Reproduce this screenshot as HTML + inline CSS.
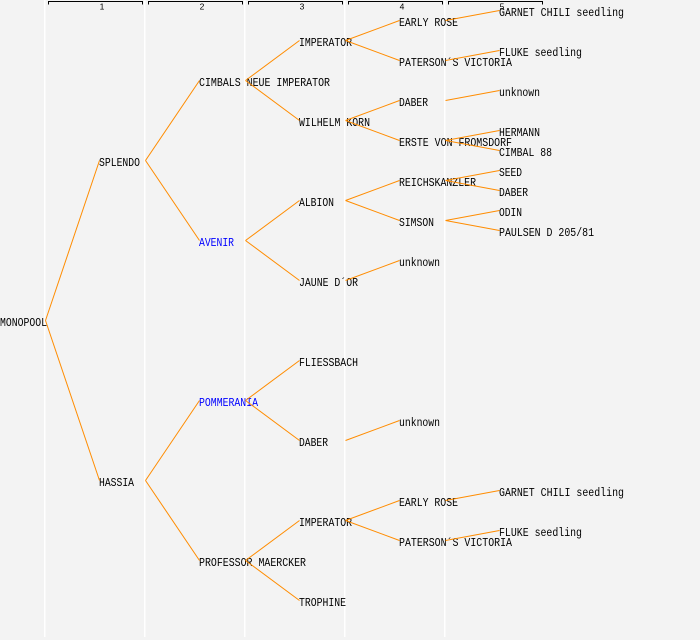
<!DOCTYPE html>
<html>
<head>
<meta charset="utf-8">
<style>
  html,body{margin:0;padding:0;background:#f3f3f3;}
  svg{display:block;}
  .t{font-family:"Liberation Mono","DejaVu Sans Mono",monospace;font-size:12px;fill:#000;}
  .b{fill:#0000ff;}
  .h{font-family:"Liberation Sans","DejaVu Sans",sans-serif;font-size:8.5px;fill:#000;}
  .e{stroke:#ff8c00;stroke-width:1;fill:none;}
</style>
</head>
<body>
<svg width="700" height="640" viewBox="0 0 700 640" xmlns="http://www.w3.org/2000/svg">
  <rect x="0" y="0" width="700" height="640" fill="#f3f3f3"/>
  <!-- column separators -->
  <g fill="#ffffff">
    <rect x="44" y="0" width="1.5" height="637"/>
    <rect x="144" y="0" width="1.5" height="637"/>
    <rect x="244" y="0" width="1.5" height="637"/>
    <rect x="344" y="0" width="1.5" height="637"/>
    <rect x="444" y="0" width="1.5" height="637"/>
  </g>
  <!-- header brackets -->
  <g stroke="#000" stroke-width="1" fill="none">
    <path d="M48.5 4.5 V1.5 H142.5 V4.5"/>
    <path d="M148.5 4.5 V1.5 H242.5 V4.5"/>
    <path d="M248.5 4.5 V1.5 H342.5 V4.5"/>
    <path d="M348.5 4.5 V1.5 H442.5 V4.5"/>
    <path d="M448.5 4.5 V1.5 H542.5 V4.5"/>
  </g>
  <g class="h" text-anchor="middle">
    <text x="102" y="9.5">1</text>
    <text x="202" y="9.5">2</text>
    <text x="302" y="9.5">3</text>
    <text x="402" y="9.5">4</text>
    <text x="502" y="9.5">5</text>
  </g>

  <!-- labels -->
  <g class="t">
    <text x="0" y="326" textLength="47" lengthAdjust="spacingAndGlyphs">MONOPOOL</text>

    <text x="99" y="166" textLength="41" lengthAdjust="spacingAndGlyphs">SPLENDO</text>
    <text x="99" y="486" textLength="35" lengthAdjust="spacingAndGlyphs">HASSIA</text>

    <text x="199" y="86" textLength="131" lengthAdjust="spacingAndGlyphs">CIMBALS NEUE IMPERATOR</text>
    <text x="199" y="246" class="t b" textLength="35" lengthAdjust="spacingAndGlyphs">AVENIR</text>
    <text x="199" y="406" class="t b" textLength="59" lengthAdjust="spacingAndGlyphs">POMMERANIA</text>
    <text x="199" y="566" textLength="107" lengthAdjust="spacingAndGlyphs">PROFESSOR MAERCKER</text>

    <text x="299" y="46" textLength="53" lengthAdjust="spacingAndGlyphs">IMPERATOR</text>
    <text x="299" y="126" textLength="71" lengthAdjust="spacingAndGlyphs">WILHELM KORN</text>
    <text x="299" y="206" textLength="35" lengthAdjust="spacingAndGlyphs">ALBION</text>
    <text x="299" y="286" textLength="59" lengthAdjust="spacingAndGlyphs">JAUNE D´OR</text>
    <text x="299" y="366" textLength="59" lengthAdjust="spacingAndGlyphs">FLIESSBACH</text>
    <text x="299" y="446" textLength="29" lengthAdjust="spacingAndGlyphs">DABER</text>
    <text x="299" y="526" textLength="53" lengthAdjust="spacingAndGlyphs">IMPERATOR</text>
    <text x="299" y="606" textLength="47" lengthAdjust="spacingAndGlyphs">TROPHINE</text>

    <text x="399" y="26" textLength="59" lengthAdjust="spacingAndGlyphs">EARLY ROSE</text>
    <text x="399" y="66" textLength="113" lengthAdjust="spacingAndGlyphs">PATERSON´S VICTORIA</text>
    <text x="399" y="106" textLength="29" lengthAdjust="spacingAndGlyphs">DABER</text>
    <text x="399" y="146" textLength="113" lengthAdjust="spacingAndGlyphs">ERSTE VON FROMSDORF</text>
    <text x="399" y="186" textLength="77" lengthAdjust="spacingAndGlyphs">REICHSKANZLER</text>
    <text x="399" y="226" textLength="35" lengthAdjust="spacingAndGlyphs">SIMSON</text>
    <text x="399" y="266" textLength="41" lengthAdjust="spacingAndGlyphs">unknown</text>
    <text x="399" y="426" textLength="41" lengthAdjust="spacingAndGlyphs">unknown</text>
    <text x="399" y="506" textLength="59" lengthAdjust="spacingAndGlyphs">EARLY ROSE</text>
    <text x="399" y="546" textLength="113" lengthAdjust="spacingAndGlyphs">PATERSON´S VICTORIA</text>

    <text x="499" y="16" textLength="125" lengthAdjust="spacingAndGlyphs">GARNET CHILI seedling</text>
    <text x="499" y="56" textLength="83" lengthAdjust="spacingAndGlyphs">FLUKE seedling</text>
    <text x="499" y="96" textLength="41" lengthAdjust="spacingAndGlyphs">unknown</text>
    <text x="499" y="136" textLength="41" lengthAdjust="spacingAndGlyphs">HERMANN</text>
    <text x="499" y="156" textLength="53" lengthAdjust="spacingAndGlyphs">CIMBAL 88</text>
    <text x="499" y="176" textLength="23" lengthAdjust="spacingAndGlyphs">SEED</text>
    <text x="499" y="196" textLength="29" lengthAdjust="spacingAndGlyphs">DABER</text>
    <text x="499" y="216" textLength="23" lengthAdjust="spacingAndGlyphs">ODIN</text>
    <text x="499" y="236" textLength="95" lengthAdjust="spacingAndGlyphs">PAULSEN D 205/81</text>
    <text x="499" y="496" textLength="125" lengthAdjust="spacingAndGlyphs">GARNET CHILI seedling</text>
    <text x="499" y="536" textLength="83" lengthAdjust="spacingAndGlyphs">FLUKE seedling</text>
  </g>

  <!-- connectors -->
  <g class="e">
    <line x1="45.5" y1="320.5" x2="99.5" y2="160.5"/>
    <line x1="45.5" y1="320.5" x2="99.5" y2="480.5"/>

    <line x1="145.5" y1="160.5" x2="199.5" y2="80.5"/>
    <line x1="145.5" y1="160.5" x2="199.5" y2="240.5"/>
    <line x1="145.5" y1="480.5" x2="199.5" y2="400.5"/>
    <line x1="145.5" y1="480.5" x2="199.5" y2="560.5"/>

    <line x1="245.5" y1="80.5" x2="299.5" y2="40.5"/>
    <line x1="245.5" y1="80.5" x2="299.5" y2="120.5"/>
    <line x1="245.5" y1="240.5" x2="299.5" y2="200.5"/>
    <line x1="245.5" y1="240.5" x2="299.5" y2="280.5"/>
    <line x1="245.5" y1="400.5" x2="299.5" y2="360.5"/>
    <line x1="245.5" y1="400.5" x2="299.5" y2="440.5"/>
    <line x1="245.5" y1="560.5" x2="299.5" y2="520.5"/>
    <line x1="245.5" y1="560.5" x2="299.5" y2="600.5"/>

    <line x1="345.5" y1="40.5" x2="399.5" y2="20.5"/>
    <line x1="345.5" y1="40.5" x2="399.5" y2="60.5"/>
    <line x1="345.5" y1="120.5" x2="399.5" y2="100.5"/>
    <line x1="345.5" y1="120.5" x2="399.5" y2="140.5"/>
    <line x1="345.5" y1="200.5" x2="399.5" y2="180.5"/>
    <line x1="345.5" y1="200.5" x2="399.5" y2="220.5"/>
    <line x1="345.5" y1="280.5" x2="399.5" y2="260.5"/>
    <line x1="345.5" y1="440.5" x2="399.5" y2="420.5"/>
    <line x1="345.5" y1="520.5" x2="399.5" y2="500.5"/>
    <line x1="345.5" y1="520.5" x2="399.5" y2="540.5"/>

    <line x1="445.5" y1="20.5" x2="499.5" y2="10.5"/>
    <line x1="445.5" y1="60.5" x2="499.5" y2="50.5"/>
    <line x1="445.5" y1="100.5" x2="499.5" y2="90.5"/>
    <line x1="445.5" y1="140.5" x2="499.5" y2="130.5"/>
    <line x1="445.5" y1="140.5" x2="499.5" y2="150.5"/>
    <line x1="445.5" y1="180.5" x2="499.5" y2="170.5"/>
    <line x1="445.5" y1="180.5" x2="499.5" y2="190.5"/>
    <line x1="445.5" y1="220.5" x2="499.5" y2="210.5"/>
    <line x1="445.5" y1="220.5" x2="499.5" y2="230.5"/>
    <line x1="445.5" y1="500.5" x2="499.5" y2="490.5"/>
    <line x1="445.5" y1="540.5" x2="499.5" y2="530.5"/>
  </g>
</svg>
</body>
</html>
